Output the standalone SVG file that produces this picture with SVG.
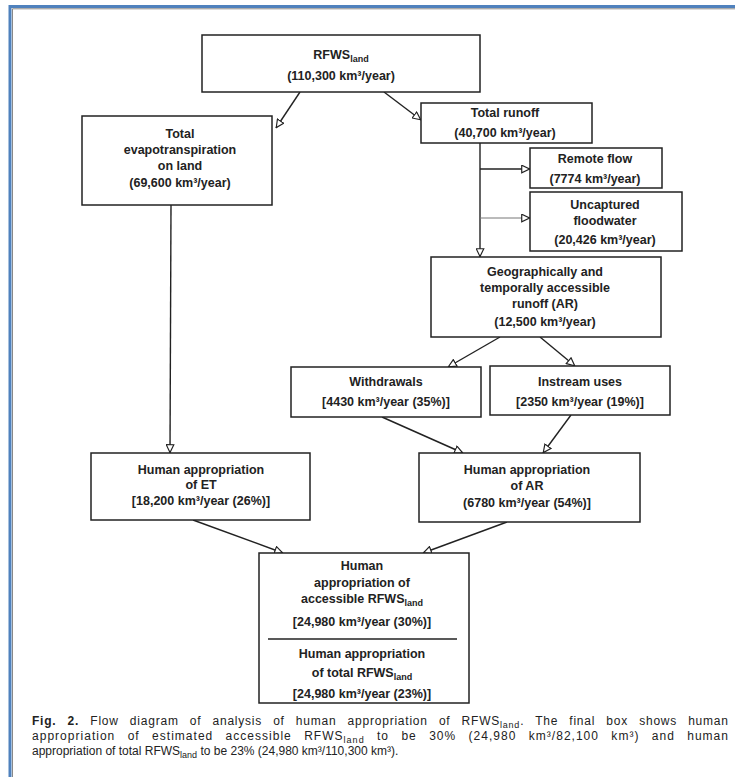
<svg xmlns="http://www.w3.org/2000/svg" width="735" height="777" viewBox="0 0 735 777">
<defs>
<marker id="arr" viewBox="0 0 10 10" refX="10" refY="5" markerWidth="9" markerHeight="9" markerUnits="userSpaceOnUse" orient="auto">
<path d="M0.8,0.8 L9.5,5 L0.8,9.2 Z" fill="#fff" stroke="#222" stroke-width="1.3"/>
</marker>
<style>
.box{fill:#fff;stroke:#222;stroke-width:1.5}
.t{font-family:"Liberation Sans",Arial,sans-serif;font-size:12.5px;font-weight:bold;fill:#222;text-anchor:middle}
.c{font-family:"Liberation Sans",Arial,sans-serif;font-size:12px;fill:#222}
.ln{stroke:#222;stroke-width:1.4;fill:none;marker-end:url(#arr)}
.lt{stroke:#777;stroke-width:1;fill:none;marker-end:url(#arr)}
</style>
</defs>
<rect width="735" height="777" fill="#fff"/>
<path d="M10,777 V6.5 H735" fill="none" stroke="#4f81bd" stroke-width="3"/>
<path d="M12.5,777 V8.8 H735" fill="none" stroke="#888" stroke-width="1"/>

<g id="connectors">
<line class="ln" x1="300" y1="92" x2="276" y2="128"/>
<line class="ln" x1="384" y1="92" x2="421" y2="120"/>
<line class="ln" x1="480" y1="143" x2="480" y2="257"/>
<line class="ln" x1="480" y1="169" x2="530" y2="169"/>
<line class="lt" x1="480" y1="218" x2="530" y2="218"/>
<line class="ln" x1="171" y1="205" x2="170" y2="453"/>
<line class="ln" x1="500" y1="337" x2="448" y2="367"/>
<line class="ln" x1="540" y1="337" x2="575" y2="366"/>
<line class="ln" x1="382" y1="417" x2="463" y2="453"/>
<line class="ln" x1="571" y1="415" x2="543" y2="453"/>
<line class="ln" x1="193" y1="520" x2="283" y2="553"/>
<line class="ln" x1="507" y1="522" x2="423" y2="553"/>
</g>

<g id="rfws">
<rect class="box" x="202" y="35" width="278" height="57"/>
<text class="t" x="341" y="59">RFWS<tspan dy="3" font-size="9">land</tspan></text>
<text class="t" x="341" y="80">(110,300 km³/year)</text>
</g>

<g id="et">
<rect class="box" x="82" y="116" width="190" height="89"/>
<text class="t" x="180" y="138">Total</text>
<text class="t" x="180" y="154">evapotranspiration</text>
<text class="t" x="180" y="170">on land</text>
<text class="t" x="180" y="187">(69,600 km³/year)</text>
</g>

<g id="runoff">
<rect class="box" x="421" y="103" width="171" height="40"/>
<text class="t" x="505" y="117">Total runoff</text>
<text class="t" x="505" y="137">(40,700 km³/year)</text>
</g>

<g id="remote">
<rect class="box" x="530" y="148" width="132" height="40"/>
<text class="t" x="595" y="163">Remote flow</text>
<text class="t" x="595" y="183">(7774 km³/year)</text>
</g>

<g id="flood">
<rect class="box" x="530" y="192" width="152" height="59"/>
<text class="t" x="605" y="209">Uncaptured</text>
<text class="t" x="605" y="225">floodwater</text>
<text class="t" x="605" y="244">(20,426 km³/year)</text>
</g>

<g id="ar">
<rect class="box" x="431" y="257" width="230" height="80"/>
<text class="t" x="545" y="276">Geographically and</text>
<text class="t" x="545" y="292">temporally accessible</text>
<text class="t" x="545" y="308">runoff (AR)</text>
<text class="t" x="545" y="326">(12,500 km³/year)</text>
</g>

<g id="withdrawals">
<rect class="box" x="291" y="367" width="190" height="50"/>
<text class="t" x="386" y="386">Withdrawals</text>
<text class="t" x="386" y="406">[4430 km³/year (35%)]</text>
</g>

<g id="instream">
<rect class="box" x="490" y="366" width="180" height="49"/>
<text class="t" x="580" y="386">Instream uses</text>
<text class="t" x="580" y="406">[2350 km³/year (19%)]</text>
</g>

<g id="human-et">
<rect class="box" x="91" y="453" width="219" height="67"/>
<text class="t" x="201" y="474">Human appropriation</text>
<text class="t" x="201" y="489">of ET</text>
<text class="t" x="201" y="505">[18,200 km³/year (26%)]</text>
</g>

<g id="human-ar">
<rect class="box" x="419" y="453" width="221" height="69"/>
<text class="t" x="527" y="474">Human appropriation</text>
<text class="t" x="527" y="490">of AR</text>
<text class="t" x="527" y="507">(6780 km³/year (54%)]</text>
</g>

<g id="final">
<rect class="box" x="259" y="553" width="210" height="150"/>
<text class="t" x="362" y="570">Human</text>
<text class="t" x="362" y="587">appropriation of</text>
<text class="t" x="362" y="603">accessible RFWS<tspan dy="3" font-size="9">land</tspan></text>
<text class="t" x="362" y="626">[24,980 km³/year (30%)]</text>
<line x1="268" y1="639" x2="457" y2="639" stroke="#222" stroke-width="1.5"/>
<text class="t" x="362" y="658">Human appropriation</text>
<text class="t" x="362" y="677">of total RFWS<tspan dy="3" font-size="9">land</tspan></text>
<text class="t" x="362" y="698">[24,980 km³/year (23%)]</text>
</g>

<g id="caption">
<text class="c" x="32" y="725" word-spacing="7" textLength="696" lengthAdjust="spacing"><tspan font-weight="bold">Fig. 2.</tspan> Flow diagram of analysis of human appropriation of RFWS<tspan dy="3" font-size="9">land</tspan><tspan dy="-3">. The final box shows human</tspan></text>
<text class="c" x="32" y="740" word-spacing="8" textLength="696" lengthAdjust="spacing">appropriation of estimated accessible RFWS<tspan dy="3" font-size="9">land</tspan><tspan dy="-3"> to be 30% (24,980 km³/82,100 km³) and human</tspan></text>
<text class="c" x="32" y="755">appropriation of total RFWS<tspan dy="3" font-size="9">land</tspan><tspan dy="-3"> to be 23% (24,980 km³/110,300 km³).</tspan></text>
</g>
</svg>
